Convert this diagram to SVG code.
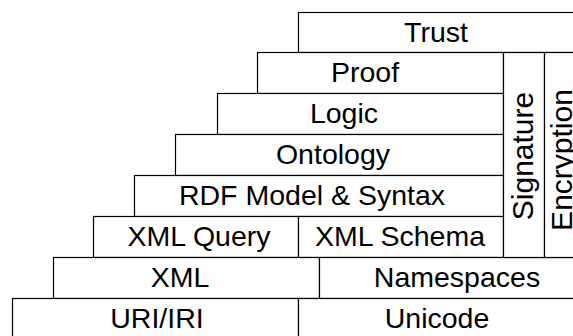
<svg xmlns="http://www.w3.org/2000/svg" width="573" height="336" viewBox="0 0 573 336">
  <style>
    .box { fill: #ffffff; stroke: #000000; stroke-width: 1.2; }
    .lbl { font-family: "Liberation Sans", Arial, sans-serif; font-size: 28.5px; fill: #000000; text-anchor: middle; }
    .vlbl { font-family: "Liberation Sans", Arial, sans-serif; font-size: 30px; fill: #000000; text-anchor: middle; }
  </style>
  <rect x="0" y="0" width="573" height="336" fill="#ffffff"/>

  <!-- layer stack, top to bottom -->
  <g id="trust">
    <rect class="box" x="298.5" y="12.5" width="285" height="40"/>
    <text class="lbl" x="436" y="42">Trust</text>
  </g>
  <g id="proof">
    <rect class="box" x="257.5" y="52.5" width="246" height="41"/>
    <text class="lbl" x="365" y="82">Proof</text>
  </g>
  <g id="logic">
    <rect class="box" x="217.5" y="93.5" width="286" height="41"/>
    <text class="lbl" x="344" y="123">Logic</text>
  </g>
  <g id="ontology">
    <rect class="box" x="175.5" y="134.5" width="328" height="41"/>
    <text class="lbl" x="333" y="164">Ontology</text>
  </g>
  <g id="rdf">
    <rect class="box" x="134.5" y="175.5" width="369" height="41"/>
    <text class="lbl" x="312" y="205">RDF Model &amp; Syntax</text>
  </g>
  <g id="xml-query">
    <rect class="box" x="93.5" y="216.5" width="205" height="41"/>
    <text class="lbl" x="199" y="246">XML Query</text>
  </g>
  <g id="xml-schema">
    <rect class="box" x="298.5" y="216.5" width="205" height="41"/>
    <text class="lbl" x="400" y="246">XML Schema</text>
  </g>
  <g id="xml">
    <rect class="box" x="53.5" y="257.5" width="266" height="41"/>
    <text class="lbl" x="180" y="287">XML</text>
  </g>
  <g id="namespaces">
    <rect class="box" x="319.5" y="257.5" width="270" height="41"/>
    <text class="lbl" x="457" y="287">Namespaces</text>
  </g>
  <g id="uri-iri">
    <rect class="box" x="12.5" y="298.5" width="286" height="50"/>
    <text class="lbl" x="157" y="328">URI/IRI</text>
  </g>
  <g id="unicode">
    <rect class="box" x="298.5" y="298.5" width="290" height="50"/>
    <text class="lbl" x="437" y="328">Unicode</text>
  </g>

  <!-- vertical side columns -->
  <g id="signature">
    <rect class="box" x="503.5" y="52.5" width="41" height="205"/>
    <text class="vlbl" transform="translate(533 156) rotate(-90)">Signature</text>
  </g>
  <g id="encryption">
    <rect class="box" x="544.5" y="52.5" width="45" height="205"/>
    <text class="vlbl" transform="translate(571.5 160) rotate(-90)">Encryption</text>
  </g>

  <g id="connectors"/>
</svg>
